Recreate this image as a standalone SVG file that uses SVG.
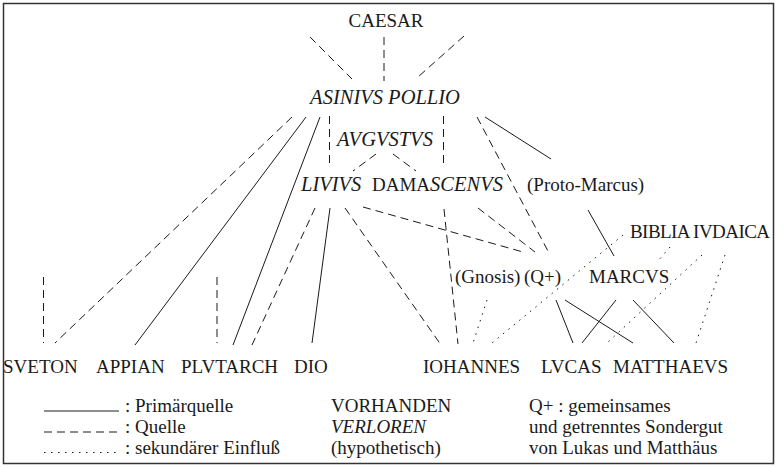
<svg xmlns="http://www.w3.org/2000/svg" width="777" height="467" viewBox="0 0 777 467">
<style>
text{font-family:"Liberation Serif","Times New Roman",serif;font-size:19px;fill:#1a1a1a}
.it{font-style:italic;font-size:20.5px}
.c{text-anchor:middle}
line{stroke:#1a1a1a;stroke-width:1;fill:none}
.q{stroke-dasharray:8 5}
.s{stroke-dasharray:1.5 5.5}
</style>
<rect x="3.5" y="3.5" width="770" height="460" fill="#fff" stroke="#333" stroke-width="1.5"/>
<g id="connectors">
<line class="q" x1="310" y1="37" x2="352" y2="79"/>
<line class="q" x1="384" y1="37" x2="384" y2="81"/>
<line class="q" x1="464" y1="36" x2="418" y2="77"/>
<line class="q" x1="292" y1="117" x2="55" y2="343"/>
<line class="q" x1="329.5" y1="116" x2="329.5" y2="163"/>
<line class="q" x1="443.5" y1="116" x2="443.5" y2="163"/>
<line class="q" x1="477" y1="117" x2="549" y2="253"/>
<line class="q" x1="376" y1="154" x2="353" y2="171"/>
<line class="q" x1="393" y1="154" x2="416" y2="171"/>
<line class="q" x1="315" y1="208" x2="252" y2="345"/>
<line class="q" x1="345" y1="208" x2="441" y2="345"/>
<line class="q" x1="363" y1="207" x2="523" y2="252"/>
<line class="q" x1="444" y1="209" x2="458" y2="344"/>
<line class="q" x1="478" y1="208" x2="535" y2="252"/>
<line class="q" x1="43.5" y1="277" x2="43.5" y2="343"/>
<line class="q" x1="217" y1="277" x2="217" y2="343"/>
<line x1="306" y1="117" x2="135" y2="345"/>
<line x1="320" y1="117" x2="233" y2="345"/>
<line x1="485" y1="117" x2="551" y2="159"/>
<line x1="330" y1="208" x2="312" y2="343"/>
<line x1="588" y1="210" x2="614" y2="256"/>
<line x1="556" y1="300" x2="573" y2="343"/>
<line x1="565" y1="300" x2="633" y2="343"/>
<line x1="616" y1="300" x2="582" y2="343"/>
<line x1="633" y1="300" x2="674" y2="343"/>
<line class="s" x1="623" y1="235" x2="492" y2="343"/>
<line class="s" x1="487" y1="300" x2="473" y2="343"/>
<line class="s" x1="670" y1="247" x2="657" y2="262"/>
<line class="s" x1="702" y1="255" x2="607" y2="343"/>
<line class="s" x1="725" y1="255" x2="696" y2="343"/>
</g>
<g id="caesar"><text class="c" x="386" y="27">CAESAR</text></g>
<g id="pollio"><text class="it c" x="385" y="104">ASINIVS POLLIO</text></g>
<g id="augustus"><text class="it c" x="385" y="146">AVGVSTVS</text></g>
<g id="livius"><text class="it" x="301" y="191">LIVIVS</text></g>
<g id="damascenus"><text x="372" y="191">DAMA<tspan class="it">SCENVS</tspan></text></g>
<g id="protomarcus"><text x="527" y="191">(Proto-Marcus)</text></g>
<g id="biblia"><text x="630" y="238" textLength="140">BIBLIA IVDAICA</text></g>
<g id="gnosis"><text x="455" y="283">(Gnosis)</text></g>
<g id="qplus"><text x="524" y="283">(Q+)</text></g>
<g id="marcus"><text x="589" y="283">MARCVS</text></g>
<g id="sueton"><text x="3" y="373">SVETON</text></g>
<g id="appian"><text x="96" y="373">APPIAN</text></g>
<g id="plutarch"><text x="181" y="373">PLVTARCH</text></g>
<g id="dio"><text x="294" y="373">DIO</text></g>
<g id="iohannes"><text x="423" y="373">IOHANNES</text></g>
<g id="lucas"><text x="541" y="373">LVCAS</text></g>
<g id="matthaeus"><text x="613" y="373">MATTHAEVS</text></g>
<g id="legend">
<line x1="44" y1="411" x2="119" y2="411"/>
<line class="q" x1="44" y1="432" x2="119" y2="432"/>
<line class="s" x1="44" y1="452.5" x2="119" y2="452.5"/>
<text x="125" y="412">: Primärquelle</text>
<text x="125" y="433">: Quelle</text>
<text x="125" y="454">: sekundärer Einfluß</text>
<text x="331" y="412">VORHANDEN</text>
<text class="it" x="331" y="433" style="font-size:19px">VERLOREN</text>
<text x="331" y="454">(hypothetisch)</text>
<text x="529" y="412">Q+ : gemeinsames</text>
<text x="529" y="433">und getrenntes Sondergut</text>
<text x="529" y="454">von Lukas und Matthäus</text>
</g>
</svg>
